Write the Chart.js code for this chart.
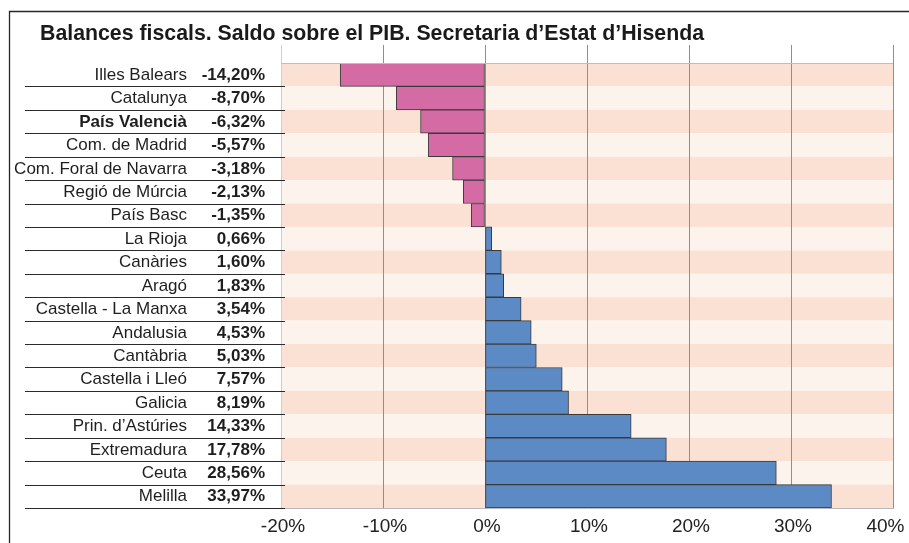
<!DOCTYPE html>
<html>
<head>
<meta charset="utf-8">
<script src="https://cdn.jsdelivr.net/npm/chart.js@4.4.0/dist/chart.umd.min.js"></script>
<style>
  html, body { margin: 0; padding: 0; background: #ffffff; }
  canvas { display: block; }
</style>
</head>
<body>
<canvas id="chart" width="909" height="543"></canvas>
<script>
// Fiscal balance by autonomous community, % of GDP
const regions = [
  'Illes Balears', 'Catalunya', 'País Valencià', 'Com. de Madrid',
  'Com. Foral de Navarra', 'Regió de Múrcia', 'País Basc', 'La Rioja',
  'Canàries', 'Aragó', 'Castella - La Manxa', 'Andalusia', 'Cantàbria',
  'Castella i Lleó', 'Galicia', 'Prin. d’Astúries', 'Extremadura',
  'Ceuta', 'Melilla'
];
const balances = [
  -14.20, -8.70, -6.32, -5.57, -3.18, -2.13, -1.35, 0.66,
  1.60, 1.83, 3.54, 4.53, 5.03, 7.57, 8.19, 14.33, 17.78,
  28.56, 33.97
];
const axisMin = -20;
const axisMax = 40;
const axisStep = 10;
const highlighted = 'País Valencià';
const titleText = 'Balances fiscals. Saldo sobre el PIB. Secretaria d’Estat d’Hisenda';

const FONT = '"Liberation Sans", Arial, Helvetica, sans-serif';
const NEG_COLOR = '#d46ba4';
const POS_COLOR = '#5b8ac4';
const BAND_DARK = '#fae1d4';
const BAND_LIGHT = '#fdf3ed';

const fmtPct = v => v.toFixed(2).replace('.', ',') + '%';
const gridColor = v => (v === axisMin ? '#cfcfcf' : '#8f8f8f');
// the last tick label is nudged inward so it stays inside the canvas
const tickLabel = v => v + '%' + (v === axisMax ? '\u2002\u2002' : '');

const decor = {
  id: 'decor',
  beforeDraw(chart) {
    const { ctx, chartArea: a, scales } = chart;
    const y = scales.y, x = scales.x;
    ctx.save();
    ctx.fillStyle = '#ffffff';
    ctx.fillRect(0, 0, chart.width, chart.height);

    // outer frame (top and left edges)
    ctx.strokeStyle = '#262626';
    ctx.lineWidth = 1.3;
    ctx.beginPath();
    ctx.moveTo(9.5, chart.height);
    ctx.lineTo(9.5, 11.5);
    ctx.lineTo(chart.width, 11.5);
    ctx.stroke();

    // title
    ctx.fillStyle = '#1a1a1a';
    ctx.font = 'bold 21.3px ' + FONT;
    ctx.textAlign = 'left';
    ctx.textBaseline = 'alphabetic';
    ctx.fillText(titleText, 40, 39.5);

    // alternating row bands
    const band = (y.getPixelForValue(1) - y.getPixelForValue(0));
    regions.forEach((_, i) => {
      const cy = y.getPixelForValue(i);
      ctx.fillStyle = i % 2 === 0 ? BAND_DARK : BAND_LIGHT;
      ctx.fillRect(a.left, cy - band / 2, a.right - a.left, band);
    });

    // gridlines continue above the plot
    ctx.lineWidth = 1;
    x.ticks.forEach(t => {
      const px = Math.round(x.getPixelForValue(t.value)) + 0.5;
      ctx.strokeStyle = gridColor(t.value);
      ctx.beginPath();
      ctx.moveTo(px, 45);
      ctx.lineTo(px, a.top);
      ctx.stroke();
    });
    ctx.restore();
  },
  afterDraw(chart) {
    const { ctx, chartArea: a, scales } = chart;
    const y = scales.y;
    ctx.save();

    // top edge of plot
    ctx.strokeStyle = '#bdbdbd';
    ctx.lineWidth = 1;
    ctx.beginPath();
    ctx.moveTo(a.left, Math.round(a.top) + 0.5);
    ctx.lineTo(a.right, Math.round(a.top) + 0.5);
    ctx.stroke();

    const band = (y.getPixelForValue(1) - y.getPixelForValue(0));
    ctx.textBaseline = 'middle';
    regions.forEach((name, i) => {
      const cy = y.getPixelForValue(i);
      ctx.fillStyle = '#1e1e1e';
      ctx.textAlign = 'right';
      ctx.font = (name === highlighted ? 'bold ' : '') + '17px ' + FONT;
      ctx.fillText(name, 187, cy + 0.5);
      ctx.font = 'bold 17px ' + FONT;
      ctx.fillText(fmtPct(balances[i]), 265, cy + 0.5);

      // separator under each label row
      const ly = Math.round(cy + band / 2) + 0.5;
      ctx.strokeStyle = '#2b2b2b';
      ctx.lineWidth = 1;
      ctx.beginPath();
      ctx.moveTo(25, ly);
      ctx.lineTo(a.left + 4, ly);
      ctx.stroke();
    });
    ctx.restore();
  }
};

new Chart(document.getElementById('chart'), {
  type: 'bar',
  data: {
    labels: regions,
    datasets: [{
      data: balances,
      backgroundColor: c => (c.raw < 0 ? NEG_COLOR : POS_COLOR),
      borderColor: '#3a3a3a',
      borderWidth: 1,
      borderSkipped: false,
      categoryPercentage: 1,
      barPercentage: 1
    }]
  },
  options: {
    indexAxis: 'y',
    responsive: false,
    devicePixelRatio: 1,
    animation: false,
    layout: { padding: { left: 281, right: 16, top: 63, bottom: 0 } },
    plugins: {
      legend: { display: false },
      title: { display: false },
      tooltip: { enabled: false }
    },
    scales: {
      y: { display: false },
      x: {
        min: axisMin,
        max: axisMax,
        afterFit: s => { s.height = 35; s.paddingLeft = 0; s.paddingRight = 0; },
        ticks: {
          stepSize: axisStep,
          padding: 7,
          labelOffset: 2,
          color: '#222222',
          font: { family: FONT, size: 19 },
          callback: tickLabel
        },
        grid: {
          color: c => gridColor(c.tick.value),
          lineWidth: 1,
          drawTicks: false
        },
        border: { display: true, color: '#b8b8b8' }
      }
    }
  },
  plugins: [decor]
});
</script>
</body>
</html>
